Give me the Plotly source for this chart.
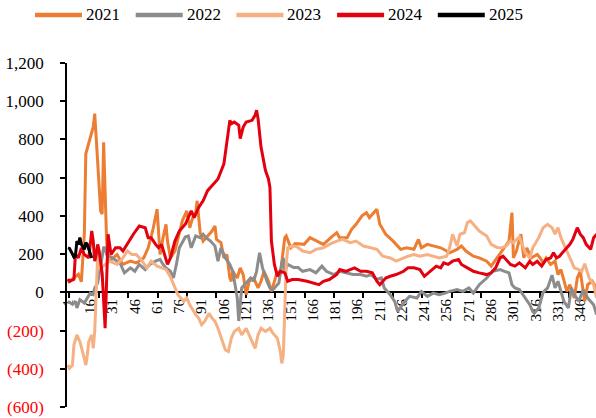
import plotly.graph_objects as go

# ---- series data (day of year -> value) ----
YEARS = ["2021", "2022", "2023", "2024", "2025"]
COLORS = ["#ED7D31", "#8C8C8C", "#F5B183", "#E3000F", "#000000"]

days_2021 = [1, 4, 8, 10, 12, 13, 15, 17, 18, 19, 20, 21, 23, 24, 25, 27, 28, 30, 34, 38,
             43, 47, 52, 55, 58, 61, 62, 63, 65, 67, 68, 70, 73, 75, 78, 81, 83, 85, 87, 88,
             90, 92, 96, 98, 100, 101, 104, 106, 108, 110, 111, 112, 115, 117, 119, 121, 123,
             126, 129, 131, 133, 136, 138, 140, 142, 144, 147, 148, 151, 154, 160, 164, 169,
             173, 178, 182, 184, 189, 192, 195, 199, 202, 204, 206, 209, 211, 215, 220, 225,
             229, 234, 237, 239, 243, 247, 252, 256, 258, 263, 266, 269, 274, 278, 283, 286,
             289, 294, 296, 298, 300, 301, 303, 306, 308, 310, 313, 317, 319, 321, 323, 326,
             329, 331, 333, 337, 339, 342, 344, 346, 348, 349, 351, 354, 357]
vals_2021 = [50, 70, 95, 55, 305, 725, 780, 830, 865, 935, 795, 655, 425, 410, 785, 270, 165,
             170, 198, 146, 163, 154, 180, 233, 321, 435, 321, 198, 286, 356, 268, 180, 216,
             286, 374, 426, 338, 391, 417, 479, 312, 268, 304, 321, 347, 277, 260, 180, 198,
             75, 58, 110, 75, 128, 93, -12, 58, 75, 23, 58, 110, 58, 5, 58, 110, 93, 286, 295,
             233, 255, 251, 286, 268, 251, 286, 312, 286, 286, 330, 356, 400, 417, 391, 409,
             435, 356, 304, 268, 225, 233, 225, 277, 233, 251, 242, 233, 216, 207, 225, 242,
             216, 189, 180, 163, 137, 170, 225, 251, 268, 417, 180, 216, 304, 180, 233, 180,
             198, 180, 154, 180, 146, 163, 93, 119, 5, 40, -30, 75, 110, 5, -47, 40, 58, 23]

days_2022 = [1, 4, 6, 7, 9, 12, 14, 16, 18, 19, 21, 22, 24, 25, 26, 27, 31, 36, 39, 43, 46,
             49, 53, 56, 60, 63, 65, 67, 70, 72, 74, 76, 80, 82, 84, 87, 90, 92, 94, 97, 100,
             102, 104, 107, 110, 112, 115, 116, 118, 120, 124, 126, 128, 130, 132, 135, 137,
             139, 143, 145, 146, 147, 149, 153, 156, 159, 164, 168, 172, 175, 180, 184, 189,
             193, 198, 202, 205, 209, 212, 214, 218, 221, 223, 226, 228, 231, 236, 239, 243,
             247, 251, 255, 258, 263, 267, 271, 274, 278, 283, 287, 292, 295, 298, 300, 302,
             305, 310, 312, 314, 315, 318, 321, 324, 327, 329, 331, 335, 338, 340, 342, 345,
             348, 351, 355, 357]
vals_2022 = [-47, -63, -47, -82, -38, -56, -30, -4, -12, 23, 49, 93, 180, 233, 233, 198, 180,
             154, 102, 128, 110, 146, 119, 146, 163, 172, 146, 128, 110, 75, 146, 233, 290,
             295, 233, 295, 286, 304, 286, 268, 242, 163, 233, 180, 146, 110, -30, -150, 23,
             40, 75, 58, 110, 207, 128, 58, 23, 14, 49, 154, 180, 110, 146, 130, 130, 110,
             119, 102, 137, 110, 93, 110, 102, 93, 93, 84, 93, 67, 75, 23, -12, -47, -100,
             -65, -47, -21, -30, 5, -21, -4, -12, -4, 5, 14, 5, 23, -4, 40, 75, 110, 119, 110,
             102, 40, 23, 15, -47, -65, -100, -109, -82, 0, 23, 90, 23, 58, -47, -82, 23, -12,
             -47, 14, -30, -65, -116]

days_2023 = [1, 2, 4, 5, 7, 9, 12, 13, 14, 15, 17, 18, 19, 20, 21, 23, 26, 29, 34, 38, 41,
             44, 47, 51, 54, 57, 61, 64, 67, 70, 72, 75, 79, 81, 83, 87, 89, 91, 93, 96, 98,
             100, 102, 105, 107, 109, 111, 113, 116, 118, 121, 125, 127, 129, 131, 134, 137,
             139, 142, 144, 145, 146, 147, 148, 149, 152, 155, 159, 164, 168, 173, 177, 182,
             186, 191, 195, 200, 204, 209, 213, 218, 222, 227, 230, 234, 238, 243, 247, 251,
             256, 258, 260, 263, 265, 268, 270, 272, 274, 278, 283, 286, 290, 293, 296, 299,
             301, 305, 309, 312, 314, 318, 321, 324, 327, 329, 331, 333, 336, 339, 342, 345,
             347, 349, 352, 355, 357]
vals_2023 = [-380, -398, -381, -275, -223, -258, -346, -381, -328, -258, -223, -293, -205,
             40, 198, 128, 146, 163, 146, 180, 216, 198, 198, 163, 128, 163, 137, 128, 120,
             80, 45, -12, -47, -30, -65, -117, -135, -170, -152, -109, -135, -152, -188, -258,
             -302, -310, -240, -205, -188, -223, -188, -258, -293, -223, -188, -205, -188,
             -214, -240, -310, -372, -328, -117, 146, 233, 242, 240, 216, 207, 225, 233, 251,
             268, 277, 260, 268, 242, 233, 225, 189, 180, 163, 180, 189, 198, 189, 198, 189,
             180, 189, 233, 304, 242, 304, 312, 365, 374, 356, 321, 295, 251, 235, 233, 242,
             268, 260, 290, 207, 180, 233, 286, 338, 356, 338, 304, 338, 286, 233, 180, 128,
             119, 110, 150, 75, 40, -30]

days_2024 = [1, 2, 5, 6, 8, 10, 12, 15, 17, 18, 19, 20, 21, 22, 24, 26, 28, 29, 30, 33, 36,
             38, 42, 45, 49, 53, 55, 57, 60, 62, 64, 66, 68, 70, 73, 76, 80, 82, 84, 86, 89,
             92, 95, 99, 102, 106, 108, 110, 111, 113, 116, 117, 119, 121, 125, 127, 128, 129,
             131, 134, 136, 137, 138, 140, 142, 144, 147, 149, 152, 156, 162, 166, 170, 173,
             177, 182, 184, 188, 191, 194, 198, 202, 206, 209, 211, 215, 218, 222, 227, 230,
             234, 238, 241, 245, 249, 252, 254, 257, 260, 264, 266, 270, 274, 278, 283, 286,
             289, 292, 294, 296, 299, 302, 305, 309, 312, 314, 317, 320, 323, 326, 328, 330,
             332, 335, 337, 339, 341, 344, 346, 348, 350, 353, 355, 357]
vals_2024 = [70, 58, 68, 200, 180, 233, 198, 180, 321, 268, 163, 198, 251, 216, 100, -188,
             304, 233, 198, 233, 233, 216, 268, 304, 347, 338, 286, 286, 251, 233, 251, 198,
             146, 180, 268, 321, 356, 391, 426, 391, 444, 479, 532, 567, 593, 672, 795, 900,
             883, 891, 874, 804, 865, 891, 900, 926, 953, 909, 760, 637, 593, 549, 268, 146,
             84, 110, 102, 58, 67, 67, 58, 49, 40, 58, 67, 93, 119, 110, 119, 128, 110, 110,
             102, 58, 40, 75, 84, 93, 110, 128, 128, 119, 84, 110, 137, 128, 154, 146, 163,
             172, 146, 128, 110, 102, 93, 102, 128, 180, 189, 172, 146, 137, 154, 128, 163,
             146, 163, 137, 172, 180, 207, 180, 189, 216, 233, 251, 277, 338, 304, 286, 251,
             225, 286, 304]

days_2025 = list(range(1, 18))
vals_2025 = [233, 230, 215, 195, 185, 190, 268, 250, 286, 251, 235, 225, 260, 251, 225, 198, 180]

SERIES_DAYS = [days_2021, days_2022, days_2023, days_2024, days_2025]
SERIES_VALS = [vals_2021, vals_2022, vals_2023, vals_2024, vals_2025]

# ---- axes ----
Y_MIN, Y_MAX = -600, 1200
Y_TICKS = list(range(Y_MIN, Y_MAX + 1, 200))
X_RANGE = [0.33, 356.6]
X_TICKS = list(range(1, 347, 15))

SERIF = "Liberation Serif, Times New Roman, serif"


def fmt_value(v):
    if v < 0:
        return f'<span style="color:#FF0000">({abs(v):,})</span>'
    return f"{v:,}"


fig = go.Figure()
for name, color, xs, ys in zip(YEARS, COLORS, SERIES_DAYS, SERIES_VALS):
    fig.add_trace(go.Scatter(
        x=xs, y=ys, mode="lines", name=name,
        line=dict(color=color, width=3),
        showlegend=False, hoverinfo="skip",
    ))

# legend row drawn as line swatches + labels above the plot area
PLOT_L, PLOT_T, PLOT_W, PLOT_H = 67, 63, 529, 344
legend_y = (PLOT_T + PLOT_H - 15) / PLOT_H
shapes, annotations = [], []
for i, (name, color) in enumerate(zip(YEARS, COLORS)):
    x0 = 35 + i * 100.7
    shapes.append(dict(
        type="line", xref="paper", yref="paper",
        x0=(x0 - PLOT_L) / PLOT_W, x1=(x0 + 47 - PLOT_L) / PLOT_W,
        y0=legend_y, y1=legend_y,
        line=dict(color=color, width=4.5),
    ))
    annotations.append(dict(
        xref="paper", yref="paper", x=(x0 + 49 - PLOT_L) / PLOT_W, y=legend_y,
        text=name, showarrow=False, xanchor="left", yanchor="middle",
        font=dict(family=SERIF, size=17, color="#000000"),
    ))

fig.update_layout(
    width=596, height=418,
    margin=dict(l=PLOT_L, r=0, t=PLOT_T, b=418 - PLOT_T - PLOT_H, pad=0),
    paper_bgcolor="white", plot_bgcolor="white",
    font=dict(family=SERIF, color="#000000"),
    shapes=shapes, annotations=annotations,
    xaxis=dict(
        range=X_RANGE, anchor="free",
        position=(0 - Y_MIN) / (Y_MAX - Y_MIN),
        showline=True, linecolor="#000000", linewidth=1.5,
        showgrid=False, zeroline=False,
        tickmode="array", tickvals=X_TICKS, ticktext=[str(t) for t in X_TICKS],
        ticks="outside", ticklen=0, tickangle=-90,
        tickfont=dict(family=SERIF, size=15, color="#000000"),
        minor=dict(ticks="outside", ticklen=5, tickwidth=1.5, tickcolor="#000000",
                   tick0=2, dtick=19.8, showgrid=False),
        layer="below traces",
    ),
    yaxis=dict(
        range=[Y_MIN, Y_MAX], domain=[0, 1],
        showline=True, linecolor="#000000", linewidth=1.5,
        showgrid=False, zeroline=False,
        tickmode="array", tickvals=Y_TICKS, ticktext=[fmt_value(v) for v in Y_TICKS],
        ticks="outside", ticklen=5, tickwidth=1.5, tickcolor="#000000",
        ticklabelstandoff=13,
        tickfont=dict(family=SERIF, size=17, color="#000000"),
    ),
)

fig.write_html("out.html")
